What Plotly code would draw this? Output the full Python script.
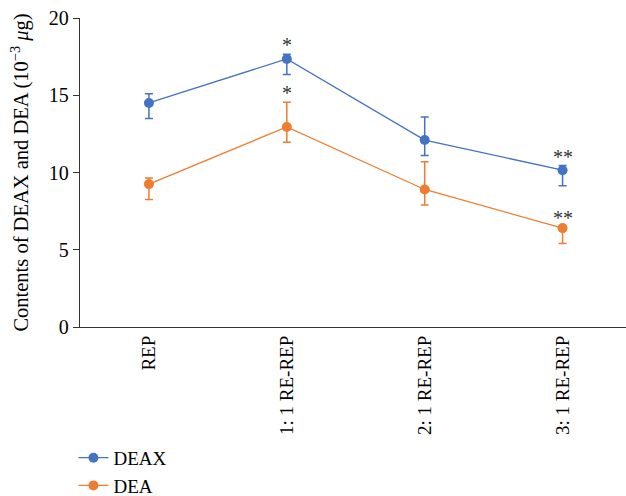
import plotly.graph_objects as go

groups = ["REP", "1: 1 RE-REP", "2: 1 RE-REP", "3: 1 RE-REP"]

deax = [14.5, 17.35, 12.1, 10.15]
deax_up = [0.6, 0.3, 1.5, 0.3]
deax_down = [1.0, 1.0, 1.0, 1.0]

dea = [9.25, 12.95, 8.9, 6.4]
dea_up = [0.4, 1.6, 1.8, 0.1]
dea_down = [1.0, 1.0, 1.0, 1.0]

deax_sig = ["", "*", "", "**"]
dea_sig = ["", "*", "", "**"]

BLUE = "#4472C4"
ORANGE = "#ED7D31"
FONT = "Liberation Serif"

fig = go.Figure()


def add_series(name, vals, up, down, color):
    fig.add_trace(go.Scatter(
        x=groups, y=vals, name=name, mode="lines+markers",
        line=dict(color=color, width=1.3),
        marker=dict(color=color, size=10),
        error_y=dict(type="data", symmetric=False, array=up, arrayminus=down,
                     color=color, thickness=1.5, width=4),
    ))


add_series("DEAX", deax, deax_up, deax_down, BLUE)
add_series("DEA", dea, dea_up, dea_down, ORANGE)

for vals, up, marks in ((deax, deax_up, deax_sig), (dea, dea_up, dea_sig)):
    for g, v, u, m in zip(groups, vals, up, marks):
        if m:
            fig.add_annotation(x=g, y=v + u, text=m, showarrow=False,
                               yanchor="bottom", yshift=-4,
                               font=dict(family=FONT, size=20, color="#333"))

fig.update_layout(
    width=626, height=496,
    margin=dict(l=80, r=0, t=18, b=169, autoexpand=False),
    paper_bgcolor="white", plot_bgcolor="white",
    font=dict(family=FONT, size=20, color="black"),
    showlegend=True,
    legend=dict(x=-0.012, y=-0.362, xanchor="left", yanchor="top",
                font=dict(family=FONT, size=19), tracegroupgap=0,
                itemwidth=30, bgcolor="rgba(0,0,0,0)"),
)
fig.update_xaxes(
    range=[-0.5, 3.46], showline=True, linecolor="#333", linewidth=1.3,
    ticks="", tickangle=-90, showgrid=False, zeroline=False, automargin=False,
    tickfont=dict(family=FONT, size=19),
)
fig.update_yaxes(
    range=[0, 20], tickvals=[0, 5, 10, 15, 20], showline=True,
    linecolor="#333", linewidth=1.3, ticks="outside", ticklen=6,
    tickcolor="#333", showgrid=False, zeroline=False, automargin=False,
    tickfont=dict(family=FONT, size=20),
    title=dict(text="Contents of DEAX and DEA (10<sup>\u22123</sup> <i>\u03bc</i>g)",
               font=dict(family=FONT, size=20.5), standoff=14),
)

fig.write_html("out.html")
